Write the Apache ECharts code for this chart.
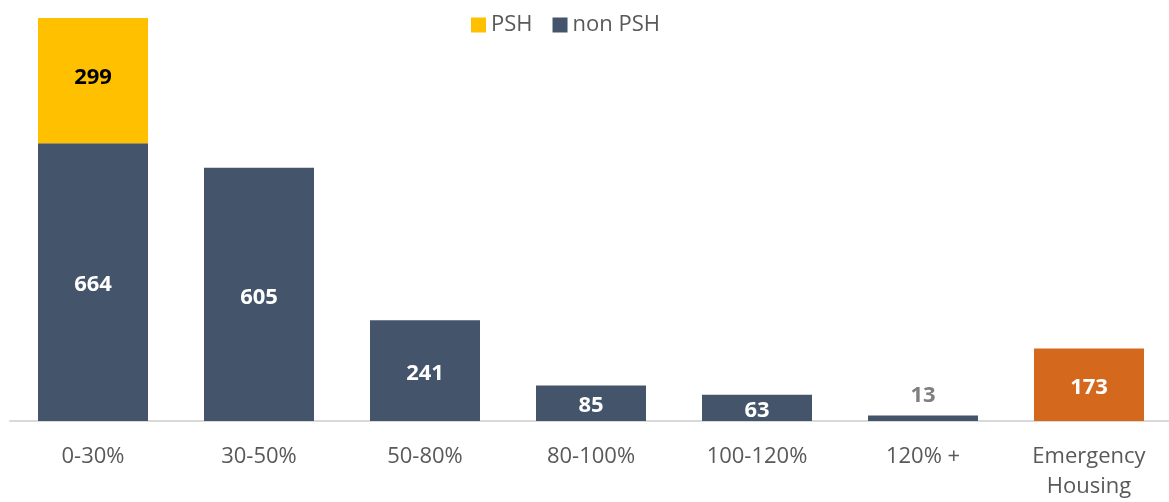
<!DOCTYPE html>
<html>
<head>
<meta charset="utf-8">
<script src="https://cdn.jsdelivr.net/npm/echarts@6/dist/echarts.min.js"></script>
<style>
  html, body { margin: 0; padding: 0; background: #fff; }
  #chart { width: 1169px; height: 502px; }
</style>
</head>
<body>
<div id="chart"></div>
<script>
// Income bands and housing counts
const categories = ['0-30%', '30-50%', '50-80%', '80-100%', '100-120%', '120% +', 'Emergency\nHousing'];
const pshValues = [299, null, null, null, null, null, null];
const nonPshValues = [664, 605, 241, 85, 63, 13, 173];
const emergencyIndex = 6;
const smallLabelIndex = 5;

const FONT = '"Open Sans", "Noto Sans", sans-serif';

const nonPshData = nonPshValues.map((v, i) => {
  const item = { value: v };
  if (i === emergencyIndex) {
    item.itemStyle = { color: '#D4691D' };
  }
  if (i === smallLabelIndex) {
    // bar too thin for an inside label: place it above in grey
    item.label = { position: 'top', color: '#7F7F7F', distance: 9, offset: [0, 0] };
  }
  return item;
});

const chart = echarts.init(document.getElementById('chart'));
chart.setOption({
  animation: false,
  textStyle: { fontFamily: FONT },
  legend: {
    top: 9,
    left: 466,
    itemWidth: 15,
    itemHeight: 15,
    itemGap: 20,
    icon: 'rect',
    textStyle: { fontSize: 22, color: '#595959', fontFamily: FONT },
    data: ['PSH', 'non PSH']
  },
  grid: { left: 10, right: -3, top: 18, bottom: 81, outerBoundsMode: 'none', containLabel: false },
  xAxis: {
    type: 'category',
    data: categories,
    axisLine: { lineStyle: { color: '#D9D9D9', width: 2 } },
    axisTick: { show: false },
    axisLabel: {
      color: '#595959',
      fontSize: 22,
      fontFamily: FONT,
      margin: 21,
      lineHeight: 30,
      interval: 0
    }
  },
  yAxis: {
    type: 'value',
    min: 0,
    max: 963,
    show: false,
    splitLine: { show: false }
  },
  series: [
    {
      name: 'non PSH',
      type: 'bar',
      stack: 'total',
      barWidth: 110,
      itemStyle: { color: '#44546A' },
      label: {
        show: true,
        position: 'inside',
        color: '#FFFFFF',
        fontWeight: 'bold',
        fontSize: 22,
        fontFamily: FONT,
        offset: [0, 3]
      },
      data: nonPshData
    },
    {
      name: 'PSH',
      type: 'bar',
      stack: 'total',
      barWidth: 110,
      itemStyle: { color: '#FFC000' },
      label: {
        show: true,
        position: 'inside',
        color: '#000000',
        fontWeight: 'bold',
        fontSize: 22,
        fontFamily: FONT,
        offset: [0, -3]
      },
      data: pshValues
    }
  ]
});
</script>
</body>
</html>
